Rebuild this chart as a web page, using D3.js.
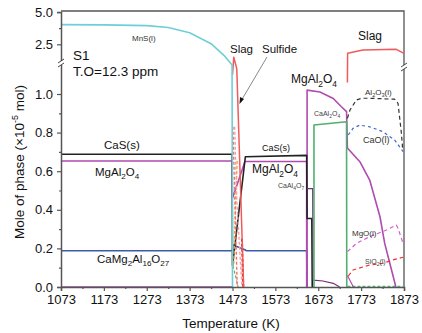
<!DOCTYPE html>
<html>
<head>
<meta charset="utf-8">
<script src="https://cdn.jsdelivr.net/npm/d3@7"></script>
<style>
  html, body { margin: 0; padding: 0; background: #fff; }
  svg text { font-family: "Liberation Sans", Arial, sans-serif; }
</style>
</head>
<body>
<div id="chart"></div>
<script>
// temperature axis
const xTicks = [1073, 1173, 1273, 1373, 1473, 1573, 1673, 1773, 1873];
const yTicksLow = [0.0, 0.2, 0.4, 0.6, 0.8, 1.0];
const yTicksHigh = [2.5, 5.0];

// phase amounts, [T (K), mol x1e-5]
const mnsL = [[1073, 4.03], [1173, 4.01], [1273, 3.95], [1323, 3.8], [1373, 3.4], [1423, 2.55], [1453, 1.65], [1472, 1.15], [1473, 0]];
const slagA = [[1473, 1.1], [1476, 1.5], [1483, 1.13], [1499, 0]];
const slagB = [[1741, 1.06], [1741.5, 1.8], [1777, 2.06], [1855, 2.11], [1873, 1.8]];
const casS = [[1073, 0.688], [1472, 0.688], [1473, 0.11], [1503, 0.675], [1646, 0.682], [1647, 0.355], [1658, 0.355], [1659, 0]];
const mgal2o4 = [[1073, 0.653], [1472, 0.653], [1473, 0.46], [1502, 0.65], [1646, 0.65], [1646, 0], [1647, 0], [1647, 1.02], [1677, 1.01], [1708, 0.977], [1727, 0.934], [1739, 0.909], [1741, 0.72], [1770, 0.649], [1793, 0.554], [1817, 0.364], [1828, 0.226], [1848, 0.053], [1854, 0]];
const camg2 = [[1073, 0.188], [1473, 0.188], [1474, 0.217], [1502, 0.193], [1505, 0.188], [1646, 0.188], [1647, 0]];
const caal4o7 = [[1647, 0.51], [1660, 0.51], [1661, 0.036], [1684, 0.031], [1708, 0.019], [1723, 0]];
const caal2o4 = [[1663, 0], [1663, 0.839], [1739, 0.856], [1739.5, 0]];
const al2o3L = [[1741, 0.874], [1747, 0.917], [1762, 0.969], [1774, 0.978], [1793, 0.978], [1851, 0.973], [1859, 0.952], [1867, 0.796], [1870, 0.71]];
const caoL = [[1743, 0.788], [1754, 0.822], [1770, 0.839], [1793, 0.83], [1824, 0.805], [1851, 0.762], [1871, 0.701]];
const mgoL = [[1741, 0.183], [1762, 0.226], [1793, 0.261], [1832, 0.295], [1855, 0.321], [1859, 0.304], [1871, 0.226]];
const sio2L = [[1743, 0.057], [1754, 0.088], [1793, 0.114], [1824, 0.123], [1847, 0.14], [1871, 0.154]];
const sulfideA = [[1474, 0.83], [1476, 0.66], [1484, 0]];
const sulfideB = [[1478, 0.83], [1483, 0.45], [1495, 0]];
const orangeD = [[1476, 0.12], [1479, 0.35], [1484, 0.66]];
const redBoldD = [[1495, 0.25], [1498, 0]];
const oliveD = [[1474, 0.11], [1482, 0.04], [1486, 0]];
const smallMg = [[1741, 0.06], [1755, 0]];
const zeroPurple = [[1073, 0], [1473, 0]];
const zeroGreen = [[1741, 0.003], [1873, 0.003]];

const W = 422, H = 333;
const svg = d3.select("#chart").append("svg").attr("width", W).attr("height", H);

const pl = 61, pr = 404, pt = 11, pb = 287;
const x = d3.scaleLinear().domain([1073, 1873]).range([pl, pr]);
// broken axis: 0..1.157 in the lower part, 1.16..5 in the upper part
const y = d3.scaleLinear().domain([0, 1.157, 1.16, 5]).range([pb, 63.7, 61.6, 12.1]);

const line = d3.line().x(d => x(d[0])).y(d => y(d[1]));

// frame
svg.append("path")
    .attr("d", `M${pl},${pt}H${pr}V${pb}`)
    .attr("fill", "none").attr("stroke", "#555").attr("stroke-width", 1.3);

const series = [
    { d: zeroPurple, c: "#a04aa0", w: 1.5 },
    { d: zeroGreen, c: "#5cb87a", w: 1.2, dash: "3,2" },
    { d: camg2, c: "#3d5aa8", w: 1.6 },
    { d: mgal2o4, c: "#b04bb0", w: 1.6 },
    { d: casS, c: "#222", w: 1.6 },
    { d: caal4o7, c: "#7b2d7b", w: 1.2 },
    { d: caal2o4, c: "#52b06e", w: 1.6 },
    { d: smallMg, c: "#b04bb0", w: 1.2 },
    { d: al2o3L, c: "#333", w: 1.2, dash: "4,3" },
    { d: caoL, c: "#4466cc", w: 1.2, dash: "3,3" },
    { d: mgoL, c: "#d060d0", w: 1.2, dash: "4,3" },
    { d: sio2L, c: "#ee3030", w: 1.2, dash: "4,3" },
    { d: oliveD, c: "#9a9a50", w: 1.2, dash: "3,2" },
    { d: orangeD, c: "#f5a040", w: 1.4, dash: "3,2" },
    { d: sulfideA, c: "#f07070", w: 1.4, dash: "3,2" },
    { d: sulfideB, c: "#f5a0a0", w: 1.4, dash: "3,2" },
    { d: redBoldD, c: "#e82020", w: 2, dash: "3,2" },
    { d: slagA, c: "#f05a5a", w: 1.5 },
    { d: slagB, c: "#f05a5a", w: 1.5 },
    { d: mnsL, c: "#6dcfd8", w: 1.6 }
];

svg.append("g").selectAll("path").data(series).join("path")
    .attr("d", s => line(s.d))
    .attr("fill", "none")
    .attr("stroke", s => s.c)
    .attr("stroke-width", s => s.w)
    .attr("stroke-dasharray", s => s.dash || null)
    .attr("stroke-linejoin", "round");

// x axis
svg.append("g").attr("transform", `translate(0,${pb})`)
    .call(d3.axisBottom(x).tickValues(xTicks).tickSize(4).tickPadding(4).tickFormat(d3.format("d")));
svg.append("g").attr("transform", `translate(0,${pb})`)
    .call(d3.axisBottom(x).tickValues(xTicks.slice(0, -1).map(t => t + 50)).tickSize(2).tickFormat(""))
    .call(g => g.select(".domain").remove());

// y axis
svg.append("g").attr("transform", `translate(${pl},0)`)
    .call(d3.axisLeft(y).tickValues(yTicksLow.concat(yTicksHigh)).tickSize(4).tickPadding(4).tickFormat(d3.format(".1f")));
svg.append("g").attr("transform", `translate(${pl},0)`)
    .call(d3.axisLeft(y).tickValues([0.1, 0.3, 0.5, 0.7, 0.9, 3.75]).tickSize(2).tickFormat(""))
    .call(g => g.select(".domain").remove());

svg.selectAll(".domain").attr("stroke", "#555").attr("stroke-width", 1.5);
svg.selectAll(".tick line").attr("stroke", "#555").attr("stroke-width", 1.2);
svg.selectAll(".tick text").attr("font-size", 13).attr("fill", "#111")
    .attr("font-family", "'Liberation Sans', Arial, sans-serif");

// axis breaks
function axisBreak(cx, cy) {
    svg.append("rect").attr("x", cx - 4).attr("y", cy - 2).attr("width", 8).attr("height", 4).attr("fill", "#fff");
    [-2, 2].forEach(o => svg.append("line")
        .attr("x1", cx - 3).attr("y1", cy + o + 2).attr("x2", cx + 3).attr("y2", cy + o - 2)
        .attr("stroke", "#444").attr("stroke-width", 1));
}
axisBreak(pl, 63);
axisBreak(pr, 67);

// labels with subscripts, "_n" marks a subscript
function label(txt, px, py, fs, col) {
    const t = svg.append("text").attr("x", px).attr("y", py).attr("font-size", fs).attr("fill", col || "#111");
    let shifted = false;
    txt.split(/(_\d+)/).filter(s => s.length).forEach(part => {
        if (part[0] === "_") {
            t.append("tspan").text(part.slice(1)).attr("font-size", fs * 0.7).attr("dy", fs * 0.3);
            shifted = true;
        } else {
            const sp = t.append("tspan").text(part);
            if (shifted) { sp.attr("dy", -fs * 0.3); shifted = false; }
        }
    });
    return t;
}

label("S1", 73, 60, 13.5);
label("T.O=12.3 ppm", 73, 76, 13.5);
label("MnS(l)", 132, 40.5, 8, "#333");
label("Slag", 230, 53, 11.5);
label("Sulfide", 262, 53, 11.5);
label("CaS(s)", 104, 149, 11.5);
label("MgAl_2O_4", 95, 176, 11.5);
label("CaMg_2Al_16O_27", 97, 263, 11.5);
label("CaS(s)", 262, 151, 9);
label("MgAl_2O_4", 252, 173, 12);
label("CaAl_4O_7", 278, 188, 7, "#444");
label("MgAl_2O_4", 291, 83, 12);
label("CaAl_2O_4", 314, 116, 7, "#444");
label("Slag", 358, 40, 12);
label("Al_2O_3(l)", 365, 95, 8, "#333");
label("CaO(l)", 363, 143, 9, "#333");
label("MgO(l)", 352, 236, 8, "#333");
label("SiO_2(l)", 365, 264, 7, "#444");

// sulfide arrow
svg.append("line").attr("x1", 267).attr("y1", 57).attr("x2", 241).attr("y2", 101)
    .attr("stroke", "#888").attr("stroke-width", 1);
svg.append("path").attr("d", "M239.5,104 L240,97 L244,99 Z").attr("fill", "#111");

// axis titles
svg.append("text").attr("x", 231).attr("y", 328).attr("text-anchor", "middle")
    .attr("font-size", 13.5).attr("fill", "#111").text("Temperature (K)");

const yl = svg.append("text").attr("transform", "translate(24,162) rotate(-90)")
    .attr("text-anchor", "middle").attr("font-size", 13.5).attr("fill", "#111");
yl.append("tspan").text("Mole of phase (\u00d710");
yl.append("tspan").text("-5").attr("font-size", 9).attr("dy", -6);
yl.append("tspan").text(" mol)").attr("dy", 6);
</script>
</body>
</html>
